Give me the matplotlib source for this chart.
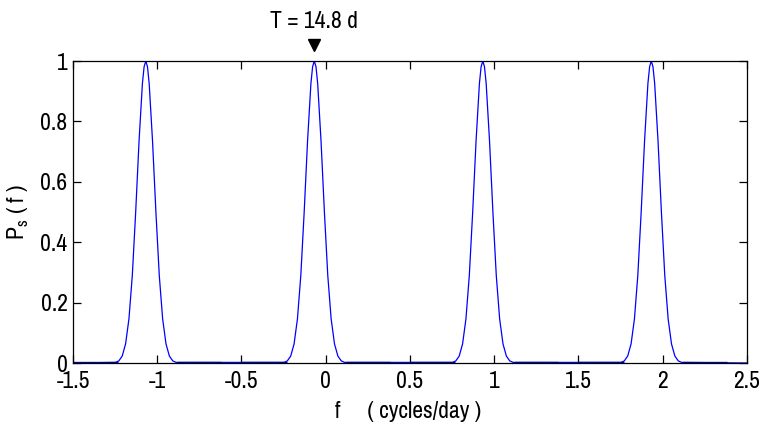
import matplotlib
matplotlib.use("Agg")
import matplotlib.pyplot as plt

plt.rcParams['font.family'] = ['Archivo Narrow', 'Roboto Condensed', 'Liberation Sans', 'DejaVu Sans']

# Peak centres (cycles/day) and period annotation
peak_centres = [-1.068, -0.068, 0.932, 1.932]
period_label = "T = 14.8 d"
marked_peak = -0.068

# Peak profile: offset from centre and value
profile_offset = [-0.18, -0.16, -0.14, -0.12, -0.10, -0.08, -0.06, -0.04, -0.02, -0.01,
                  0.0, 0.01, 0.02, 0.04, 0.06, 0.08, 0.10, 0.12, 0.14, 0.16, 0.18]
profile_value = [0.002, 0.007, 0.023, 0.063, 0.146, 0.29, 0.50, 0.735, 0.926, 0.981,
                 1.0, 0.981, 0.926, 0.735, 0.50, 0.29, 0.146, 0.063, 0.023, 0.007, 0.002]

# Baseline regions where tiny side-lobes make the line look thicker
ripple_start = [-1.5, -0.88, -0.5, 0.12, 0.5, 1.12, 1.5, 2.12]
ripple_end = [-1.23, -0.62, -0.23, 0.38, 0.77, 1.38, 1.77, 2.38]

x_ticks = [-1.5, -1, -0.5, 0, 0.5, 1, 1.5, 2, 2.5]
x_ticklabels = ['-1.5', '-1', '-0.5', '0', '0.5', '1', '1.5', '2', '2.5']
y_ticks = [0, 0.2, 0.4, 0.6, 0.8, 1]
y_ticklabels = ['0', '0.2', '0.4', '0.6', '0.8', '1']

# Build the curve from the arrays
xs = [-1.5]
ys = [0.0]
for c in peak_centres:
    for o, v in zip(profile_offset, profile_value):
        xs.append(c + o)
        ys.append(v)
xs.append(2.5)
ys.append(0.0)

FS = 17

fig = plt.figure(figsize=(7.62, 4.30), dpi=100)
ax = fig.add_axes([73/762, 1-363/430, 674/762, 302/430])

blue = '#0000ff'
ax.plot(xs, ys, color=blue, lw=0.9, solid_joinstyle='miter')
for s, e in zip(ripple_start, ripple_end):
    ax.plot([s, e], [0, 0], color='#0000b0', lw=2.4, solid_capstyle='butt')

ax.set_xlim(-1.5, 2.5)
ax.set_ylim(0, 1)
ax.set_xticks(x_ticks)
ax.set_xticklabels(x_ticklabels)
ax.set_yticks(y_ticks)
ax.set_yticklabels(y_ticklabels)
ax.tick_params(direction='in', length=6, width=0.9, top=True, right=True,
               labelsize=FS, colors='black')
ax.tick_params(axis='x', pad=6)
ax.tick_params(axis='y', pad=4)
for sp in ax.spines.values():
    sp.set_linewidth(0.9)

ax.set_xlabel('f     ( cycles/day )', fontsize=FS)
ax.set_ylabel(r'P$_{\mathregular{s}}$ ( f )', fontsize=FS)
ax.xaxis.set_label_coords((408 - 73) / 674, (363 - 412) / 302)
ax.yaxis.set_label_coords((18 - 73) / 674, 0.5)
ax.xaxis.label.set_va('center')
ax.yaxis.label.set_va('center')

# Period annotation
ax.plot([marked_peak], [1.053], marker='v', color='black', markersize=8,
        clip_on=False, linestyle='none')
ax.text(marked_peak, 1.13, period_label, ha='center', va='center',
        fontsize=FS, clip_on=False)

fig.savefig('out.png', dpi=100)
